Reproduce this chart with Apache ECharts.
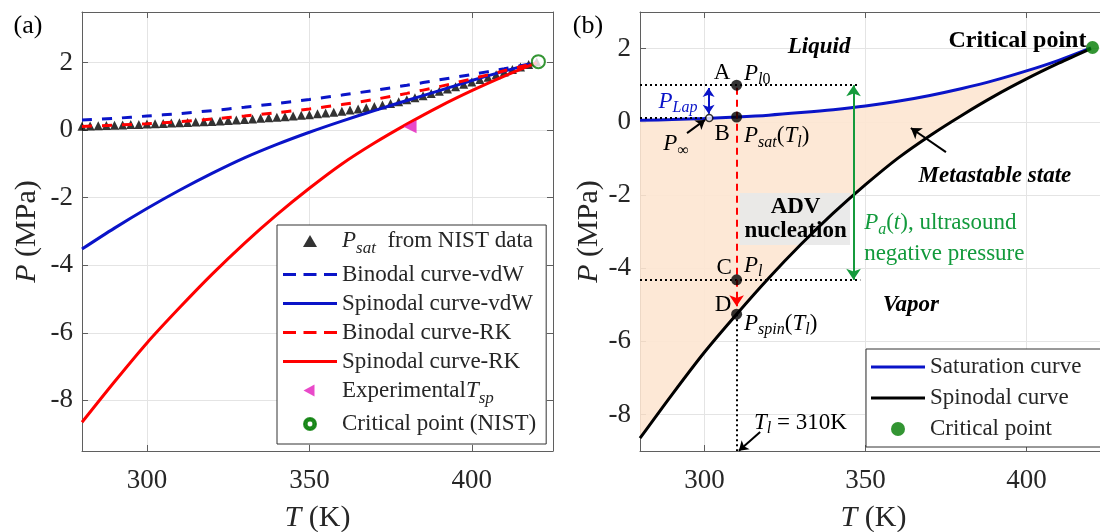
<!DOCTYPE html>
<html><head><meta charset="utf-8">
<script src="https://cdn.jsdelivr.net/npm/echarts@6/dist/echarts.min.js"></script>
<style>html,body{margin:0;padding:0;background:#fff}#c{width:1100px;height:532px}</style>
</head><body><div id="c"></div>
<script>
// ---------- data ----------
const T = [280,290,300,310,320,330,340,350,360,370,380,390,400,410,420];
const binodalVdW  = [0.30,0.35,0.42,0.49,0.58,0.68,0.79,0.91,1.04,1.18,1.33,1.49,1.65,1.82,2.0];
const spinodalVdW = [-3.52,-2.9,-2.32,-1.78,-1.28,-0.82,-0.42,-0.06,0.27,0.58,0.88,1.17,1.47,1.75,2.0];
const binodalRK   = [0.11,0.15,0.19,0.25,0.33,0.42,0.52,0.63,0.76,0.91,1.09,1.29,1.52,1.76,2.0];
const spinodalRK  = [-8.65,-7.45,-6.3,-5.26,-4.27,-3.35,-2.5,-1.72,-1.0,-0.38,0.18,0.7,1.17,1.6,2.0];
const nistT = [280,282.5,285,287.5,290,292.5,295,297.5,300,302.5,305,307.5,310,312.5,315,317.5,320,322.5,325,327.5,330,332.5,335,337.5,340,342.5,345,347.5,350,352.5,355,357.5,360,362.5,365,367.5,370,372.5,375,377.5,380,382.5,385,387.5,390,392.5,395,397.5,400,402.5,405,407.5,410,412.5,415,417.5,420];
const nistP = [0.12,0.124,0.13,0.14,0.15,0.157,0.165,0.172,0.18,0.19,0.2,0.21,0.22,0.23,0.24,0.25,0.26,0.275,0.29,0.305,0.32,0.335,0.35,0.365,0.38,0.4,0.42,0.44,0.46,0.485,0.51,0.535,0.56,0.595,0.63,0.665,0.7,0.745,0.79,0.845,0.9,0.96,1.02,1.085,1.15,1.22,1.29,1.36,1.43,1.5,1.57,1.645,1.72,1.795,1.87,1.945,2.02];
const expT = [381];
const expP = [0.1];
const critT = [420.5];
const critP = [2.03];
// panel (b)
const satP  = [0.04,0.06,0.09,0.13,0.18,0.25,0.33,0.43,0.56,0.72,0.91,1.13,1.39,1.68,2.02];
const spinP = [-8.65,-7.45,-6.3,-5.26,-4.27,-3.35,-2.5,-1.72,-1.0,-0.38,0.18,0.7,1.17,1.6,2.0];
const stateLabels = ['A','B','C','D'];
const stateT = [310,310,310,310];
const stateP = [1.0,0.13,-4.32,-5.26];
const pInfT = [301.5];
const pInfP = [0.1];
const pulseT = 346.3;          // ultrasound pressure arrow
const lapT = 301.3;            // Laplace pressure arrow
const dottedEndT = [347.9, 348.4];

// ---------- helpers ----------
const FF = '"Liberation Serif","Times New Roman",serif';
const AX = '#5f5f5f', TXT = '#262626';
const pair = (xs, ys) => xs.map((x, i) => [x, ys[i]]);

function xAx(grid, pos, main) {
  return {
    type: 'value', gridIndex: grid, position: pos, min: 280, max: 425,
    minInterval: 50, maxInterval: 50,
    axisLine: {show: true, onZero: false, lineStyle: {color: AX, width: 1}},
    axisTick: {show: true, inside: true, length: 6, lineStyle: {color: AX}},
    axisLabel: {show: main, showMinLabel: false, showMaxLabel: false, margin: 16,
      fontSize: 27, fontFamily: FF, color: TXT},
    splitLine: {show: main, lineStyle: {color: '#e4e4e4', width: 1}},
    name: main ? '{i|T} (K)' : '', nameLocation: 'middle', nameGap: 52,
    nameTextStyle: {fontSize: 30, fontFamily: FF, color: TXT,
      rich: {i: {fontStyle: 'italic', fontSize: 30, fontFamily: FF, color: TXT}}}
  };
}
function yAx(grid, pos, main, mn, mx, gap) {
  return {
    type: 'value', gridIndex: grid, position: pos, min: mn, max: mx,
    minInterval: 2, maxInterval: 2,
    axisLine: {show: true, onZero: false, lineStyle: {color: AX, width: 1}},
    axisTick: {show: true, inside: true, length: 6, lineStyle: {color: AX}},
    axisLabel: {show: main, showMinLabel: false, showMaxLabel: false, margin: 9,
      fontSize: 27, fontFamily: FF, color: TXT},
    splitLine: {show: main, lineStyle: {color: '#e4e4e4', width: 1}},
    name: main ? '{i|P} (MPa)' : '', nameLocation: 'middle', nameGap: gap, nameRotate: 90,
    nameTextStyle: {fontSize: 30, fontFamily: FF, color: TXT,
      rich: {i: {fontStyle: 'italic', fontSize: 30, fontFamily: FF, color: TXT}}}
  };
}

const BLUE = '#0a14c8', RED = '#ff0000', GREEN = '#007a00', MAG = '#e31cbc', GTXT = '#129a3c';

// legend icons (54 x 14 boxes)
const BOX = 'M0,0M54,14';
const ICON_SOLID = 'path://' + BOX + 'M0,5.5h54v3h-54z';
const ICON_DASH = 'path://' + BOX + 'M0,5.5h13v3h-13zM20.5,5.5h13v3h-13zM41,5.5h13v3h-13z';
const ICON_TRI = 'path://' + BOX + 'M27,1L34,13L20,13Z';
const ICON_LTRI = 'path://' + BOX + 'M20.5,7L31.5,1L31.5,13Z';
const ICON_RING = 'path://' + BOX + 'M21,7a6,6 0 1,0 12,0a6,6 0 1,0 -12,0ZM23.6,7a3.4,3.4 0 1,1 6.8,0a3.4,3.4 0 1,1 -6.8,0Z';

const legendNames = {
  'Psat': '{i|P}{s|sat}  from NIST data',
  'ExpTsp': 'Experimental{i|T}{s|sp}'
};
const legRich = {
  i: {fontStyle: 'italic', fontSize: 23, fontFamily: FF, color: TXT},
  s: {fontStyle: 'italic', fontSize: 17, fontFamily: FF, color: TXT, padding: [16, 0, 0, 0]}
};

const chart = echarts.init(document.getElementById('c'));
const option = {
  animation: false,
  backgroundColor: '#fff',
  grid: [
    {left: 82, top: 12, right: 547, bottom: 81, outerBoundsMode: 'none', containLabel: false},
    {left: 640, top: 12, right: -7, bottom: 81, outerBoundsMode: 'none', containLabel: false}
  ],
  xAxis: [xAx(0, 'bottom', true), xAx(1, 'bottom', true), xAx(0, 'top', false), xAx(1, 'top', false)],
  yAxis: [yAx(0, 'left', true, -9.5, 3.5, 40), yAx(1, 'left', true, -9, 3, 35),
          yAx(0, 'right', false, -9.5, 3.5, 0), yAx(1, 'right', false, -9, 3, 0)],
  legend: [
    {orient: 'vertical', left: 277, top: 225, padding: [4, 10, 8, 5], itemGap: 5,
     itemWidth: 54, itemHeight: 14, backgroundColor: '#fff', borderColor: '#333', borderWidth: 1,
     selectedMode: false,
     data: [{name: 'Psat', icon: ICON_TRI}, {name: 'Binodal curve-vdW', icon: ICON_DASH},
            {name: 'Spinodal curve-vdW', icon: ICON_SOLID}, {name: 'Binodal curve-RK', icon: ICON_DASH},
            {name: 'Spinodal curve-RK', icon: ICON_SOLID}, {name: 'ExpTsp', icon: ICON_LTRI},
            {name: 'Critical point (NIST)', icon: ICON_RING}],
     formatter: n => legendNames[n] || n,
     textStyle: {fontSize: 23, fontFamily: FF, color: TXT, lineHeight: 24, rich: legRich}},
    {orient: 'vertical', left: 866, top: 349, padding: [6, 30, 6, 5], itemGap: 7,
     itemWidth: 54, itemHeight: 14, backgroundColor: '#fff', borderColor: '#333', borderWidth: 1,
     selectedMode: false,
     data: [{name: 'Saturation curve', icon: ICON_SOLID}, {name: 'Spinodal curve', icon: ICON_SOLID},
            {name: 'Critical point'}],
     textStyle: {fontSize: 23, fontFamily: FF, color: TXT, lineHeight: 24}}
  ],
  series: [
    // ---- panel (a)
    {name: 'Psat', type: 'scatter', xAxisIndex: 0, yAxisIndex: 0, symbol: 'triangle', symbolSize: 9,
     itemStyle: {color: '#000'}, data: pair(nistT, nistP), z: 2},
    {name: 'Binodal curve-vdW', type: 'line', xAxisIndex: 0, yAxisIndex: 0, symbol: 'none', z: 3, smooth: 0.3,
     lineStyle: {color: BLUE, width: 3, type: [10, 10]}, itemStyle: {color: BLUE}, data: pair(T, binodalVdW)},
    {name: 'Spinodal curve-vdW', type: 'line', xAxisIndex: 0, yAxisIndex: 0, symbol: 'none', z: 3, smooth: 0.3,
     lineStyle: {color: BLUE, width: 3}, itemStyle: {color: BLUE}, data: pair(T, spinodalVdW)},
    {name: 'Binodal curve-RK', type: 'line', xAxisIndex: 0, yAxisIndex: 0, symbol: 'none', z: 3, smooth: 0.3,
     lineStyle: {color: RED, width: 3, type: [10, 10]}, itemStyle: {color: RED}, data: pair(T, binodalRK)},
    {name: 'Spinodal curve-RK', type: 'line', xAxisIndex: 0, yAxisIndex: 0, symbol: 'none', z: 3, smooth: 0.3,
     lineStyle: {color: RED, width: 3}, itemStyle: {color: RED}, data: pair(T, spinodalRK)},
    {name: 'ExpTsp', type: 'scatter', xAxisIndex: 0, yAxisIndex: 0, symbol: 'triangle', symbolRotate: 90,
     symbolSize: 13, itemStyle: {color: MAG}, data: pair(expT, expP), z: 4},
    {name: 'Critical point (NIST)', type: 'scatter', xAxisIndex: 0, yAxisIndex: 0, symbol: 'emptyCircle',
     symbolSize: 13, itemStyle: {color: GREEN, borderColor: GREEN, borderWidth: 3}, data: pair(critT, critP), z: 5},
    // ---- panel (b)
    {type: 'custom', xAxisIndex: 1, yAxisIndex: 1, silent: true, z: 1, data: [[280, 0]],
     renderItem: (params, api) => {
       const pts = [];
       T.forEach((t, i) => pts.push(api.coord([t, satP[i]])));
       for (let i = T.length - 1; i >= 0; i--) pts.push(api.coord([T[i], spinP[i]]));
       return {type: 'polygon', shape: {points: pts}, style: {fill: '#fde5d2', opacity: 0.9}};
     }},
    {name: 'Saturation curve', type: 'line', xAxisIndex: 1, yAxisIndex: 1, symbol: 'none', z: 3, smooth: 0.3,
     lineStyle: {color: BLUE, width: 3}, itemStyle: {color: BLUE}, data: pair(T, satP)},
    {name: 'Spinodal curve', type: 'line', xAxisIndex: 1, yAxisIndex: 1, symbol: 'none', z: 3, smooth: 0.3,
     lineStyle: {color: '#000', width: 3}, itemStyle: {color: '#000'}, data: pair(T, spinP)},
    {name: 'Critical point', type: 'scatter', xAxisIndex: 1, yAxisIndex: 1, symbol: 'circle', symbolSize: 13,
     itemStyle: {color: GREEN}, data: pair(critT, critP), z: 5},
    {name: 'guides', type: 'line', xAxisIndex: 1, yAxisIndex: 1, data: [], z: 4, silent: true,
     markLine: {silent: true, symbol: ['none', 'none'], label: {show: false}, animation: false,
       data: [
         [{coord: [280, stateP[0]], lineStyle: {color: '#000', width: 2, type: [2, 3]}}, {coord: [dottedEndT[0], stateP[0]]}],
         [{coord: [280, pInfP[0]], lineStyle: {color: '#000', width: 2, type: [2, 3]}}, {coord: [pInfT[0], pInfP[0]]}],
         [{coord: [280, stateP[2]], lineStyle: {color: '#000', width: 2, type: [2, 3]}}, {coord: [dottedEndT[1], stateP[2]]}],
         [{coord: [stateT[3], stateP[3]], lineStyle: {color: '#000', width: 2, type: [2, 3]}}, {coord: [stateT[3], -9]}],
         [{coord: [stateT[0], stateP[0] - 0.07], lineStyle: {color: RED, width: 2, type: [7, 5]}},
          {coord: [stateT[3], stateP[3] + 0.22], symbol: 'arrow', symbolSize: 11}],
         [{coord: [pulseT, stateP[0]], lineStyle: {color: '#159a3c', width: 2, type: 'solid'}, symbol: 'arrow', symbolSize: 11},
          {coord: [pulseT, stateP[2]], symbol: 'arrow', symbolSize: 11}],
         [{coord: [lapT, 0.92], lineStyle: {color: BLUE, width: 2, type: 'solid'}, symbol: 'arrow', symbolSize: 9},
          {coord: [lapT, 0.22], symbol: 'arrow', symbolSize: 9}],
         [{coord: [294.6, -0.31], lineStyle: {color: '#000', width: 2, type: 'solid'}}, {coord: [300.2, 0.05], symbol: 'arrow', symbolSize: 9}],
         [{coord: [375.0, -0.83], lineStyle: {color: '#000', width: 2, type: 'solid'}}, {coord: [364.1, -0.17], symbol: 'arrow', symbolSize: 10}],
         [{coord: [317.3, -8.48], lineStyle: {color: '#000', width: 2, type: 'solid'}}, {coord: [310.7, -8.99], symbol: 'arrow', symbolSize: 9}]
       ]}},
    {name: 'states', type: 'scatter', xAxisIndex: 1, yAxisIndex: 1, symbol: 'circle', symbolSize: 11, z: 6,
     itemStyle: {color: '#000'}, data: pair(stateT, stateP)},
    {name: 'pinf', type: 'scatter', xAxisIndex: 1, yAxisIndex: 1, symbol: 'circle', symbolSize: 7, z: 6,
     itemStyle: {color: '#fff', borderColor: '#000', borderWidth: 1.5}, data: pair(pInfT, pInfP)}
  ]
};
chart.setOption(option);

// ---------- annotations (placed in data coordinates of panel b) ----------
const px = (t, p) => chart.convertToPixel({xAxisIndex: 1, yAxisIndex: 1}, [t, p]);
const F = (s, w, st) => `${st || 'normal'} ${w || 'normal'} ${s}px "Liberation Serif"`;
const RICH = {
  i:  {font: F(23, 'normal', 'italic')},
  s:  {font: F(16, 'normal', 'italic'), padding: [12, 0, 0, 0]},
  sn: {font: F(16), padding: [12, 0, 0, 0]}
};
function gt(x, y, text, o) {
  return {type: 'text', x: x, y: y, z: 100, silent: true,
    style: Object.assign({text: text, font: F(23), fill: '#000', align: 'center', verticalAlign: 'middle', rich: RICH}, o || {})};
}
function dt(t, p, text, o) { const q = px(t, p); return gt(q[0], q[1], text, o); }

const b0 = px(310.9, -1.95), b1 = px(345.2, -3.37);
const graphics = [
  gt(28, 26, '(a)', {font: F(26)}),
  gt(588, 26, '(b)', {font: F(26)}),
  {type: 'rect', z: 2, silent: true, shape: {x: b0[0], y: b0[1], width: b1[0] - b0[0], height: b1[1] - b0[1]},
   style: {fill: 'rgba(232,232,232,0.92)'}},
  dt(328.3, -2.33, 'ADV', {font: F(23, 'bold')}),
  dt(328.3, -2.99, 'nucleation', {font: F(23, 'bold')}),
  dt(335.6, 2.04, 'Liquid', {font: F(23, 'bold', 'italic')}),
  dt(418.6, 2.21, 'Critical point', {font: F(24, 'bold'), align: 'right'}),
  dt(390.2, -1.48, 'Metastable state', {font: F(23, 'bold', 'italic')}),
  dt(364.1, -5.01, 'Vapor', {font: F(23, 'bold', 'italic')}),
  dt(305.5, 1.33, 'A'),
  dt(312.3, 1.30, '{i|P}{s|l}{sn|0}', {align: 'left'}),
  dt(305.5, -0.34, 'B'),
  dt(312.3, -0.40, '{i|P}{s|sat}({i|T}{s|l})', {align: 'left'}),
  dt(291.8, 0.54, '{bi|P}{bs|Lap}', {align: 'center', rich: {
      bi: {font: F(23, 'normal', 'italic'), fill: BLUE},
      bs: {font: F(16, 'normal', 'italic'), fill: BLUE, padding: [12, 0, 0, 0]}}}),
  dt(291.2, -0.62, '{i|P}{sn|∞}'),
  dt(306.1, -4.0, 'C'),
  dt(312.3, -3.93, '{i|P}{s|l}', {align: 'left'}),
  dt(305.8, -5.01, 'D'),
  dt(312.3, -5.52, '{i|P}{s|spin}({i|T}{s|l})', {align: 'left'}),
  dt(315.4, -8.22, '{i|T}{s|l} = 310K', {align: 'left'}),
  dt(349.6, -2.78, '{gi|P}{gs|a}({gi|t}), ultrasound', {align: 'left', fill: GTXT, rich: {
      gi: {font: F(23, 'normal', 'italic'), fill: GTXT},
      gs: {font: F(16, 'normal', 'italic'), fill: GTXT, padding: [12, 0, 0, 0]}}}),
  dt(349.6, -3.62, 'negative pressure', {align: 'left', fill: GTXT})
];
chart.setOption({graphic: graphics});
</script>
</body></html>
